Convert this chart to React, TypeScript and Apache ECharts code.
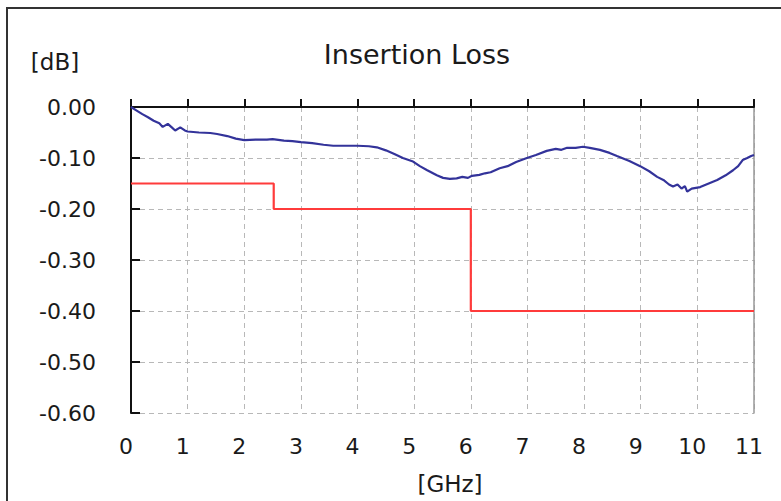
import React, { useEffect, useRef } from "react";
import * as echarts from "echarts";

const blueFreq = [0.0, 0.1, 0.2, 0.3, 0.4, 0.5, 0.56, 0.65, 0.72, 0.78, 0.87, 0.95, 1.0, 1.2, 1.4, 1.52, 1.7, 1.85, 2.0, 2.2, 2.4, 2.5, 2.7, 2.85, 3.0, 3.2, 3.4, 3.57, 3.8, 4.0, 4.2, 4.34, 4.5, 4.65, 4.8, 4.98, 5.1, 5.23, 5.4, 5.51, 5.63, 5.75, 5.85, 5.95, 6.02, 6.15, 6.25, 6.35, 6.51, 6.65, 6.8, 6.99, 7.15, 7.34, 7.5, 7.6, 7.7, 7.85, 7.98, 8.1, 8.28, 8.45, 8.58, 8.8, 8.99, 9.15, 9.29, 9.4, 9.5, 9.57, 9.65, 9.72, 9.78, 9.82, 9.9, 10.05, 10.2, 10.35, 10.5, 10.63, 10.72, 10.8, 10.88, 10.95, 11.0];
const blueLoss = [0.0, -0.007, -0.014, -0.02, -0.027, -0.032, -0.039, -0.033, -0.04, -0.046, -0.04, -0.046, -0.048, -0.05, -0.051, -0.053, -0.057, -0.062, -0.065, -0.064, -0.064, -0.063, -0.066, -0.067, -0.069, -0.071, -0.074, -0.076, -0.076, -0.076, -0.077, -0.079, -0.085, -0.092, -0.1, -0.107, -0.116, -0.124, -0.134, -0.139, -0.141, -0.14, -0.137, -0.139, -0.135, -0.133, -0.13, -0.128, -0.12, -0.116, -0.108, -0.1, -0.094, -0.086, -0.082, -0.084, -0.08, -0.08, -0.078, -0.08, -0.084, -0.09, -0.096, -0.106, -0.116, -0.126, -0.137, -0.143, -0.152, -0.156, -0.152, -0.16, -0.155, -0.166, -0.16, -0.157, -0.15, -0.143, -0.134, -0.124, -0.116, -0.104, -0.1, -0.096, -0.094];

const redFreq = [0, 2.52, 2.52, 6.0, 6.0, 11];
const redLimit = [-0.15, -0.15, -0.2, -0.2, -0.4, -0.4];

const xTicks = { min: 0, max: 11, interval: 1 };
const yTicks = { min: -0.6, max: 0, interval: 0.1 };

const FONT = "DejaVu Sans";

export default function App() {
  const ref = useRef<HTMLDivElement>(null);
  useEffect(() => {
    if (!ref.current) return;
    const chart = echarts.init(ref.current, undefined, { renderer: "svg" });
    const split = { show: true, lineStyle: { color: "#b8b8b8", type: [5, 4], width: 1 } };
    chart.setOption({
      animation: false,
      backgroundColor: "#ffffff",
      grid: { left: 131, top: 107, right: 27, bottom: 88 },
      graphic: [
        {
          type: "rect",
          shape: { x: 7, y: 8, width: 820, height: 540 },
          style: { fill: "none", stroke: "#333", lineWidth: 2 },
          silent: true,
        },
        {
          type: "text",
          x: 417,
          y: 54,
          style: { text: "Insertion Loss", font: `27px '${FONT}'`, fill: "#1a1a1a", textAlign: "center", textVerticalAlign: "middle" },
        },
        {
          type: "text",
          x: 55,
          y: 62,
          style: { text: "[dB]", font: `23px '${FONT}'`, fill: "#1a1a1a", textAlign: "center", textVerticalAlign: "middle" },
        },
        {
          type: "text",
          x: 450,
          y: 484,
          style: { text: "[GHz]", font: `23px '${FONT}'`, fill: "#1a1a1a", textAlign: "center", textVerticalAlign: "middle" },
        },
      ],
      xAxis: [
        {
          type: "value",
          position: "bottom",
          ...xTicks,
          axisLine: { show: true, lineStyle: { color: "#999", width: 1.5 } },
          axisTick: { show: false },
          axisLabel: { color: "#1a1a1a", fontFamily: FONT, fontSize: 22, margin: 22, padding: [0, 10, 0, 0] },
          splitLine: split,
        },
        {
          type: "value",
          position: "top",
          ...xTicks,
          axisLine: { show: true, onZero: false, lineStyle: { color: "#111", width: 2 } },
          axisTick: { show: true, inside: false, length: 8, lineStyle: { color: "#111", width: 2 } },
          axisLabel: { show: false },
          splitLine: { show: false },
        },
      ],
      yAxis: [
        {
          type: "value",
          position: "left",
          ...yTicks,
          axisLine: { show: true, onZero: false, lineStyle: { color: "#111", width: 2 } },
          axisTick: { show: true, inside: true, length: 9, lineStyle: { color: "#111", width: 2 } },
          axisLabel: { color: "#1a1a1a", fontFamily: FONT, fontSize: 22, margin: 35, formatter: (v: number) => v.toFixed(2) },
          splitLine: split,
        },
        {
          type: "value",
          position: "right",
          ...yTicks,
          axisLine: { show: true, onZero: false, lineStyle: { color: "#999", width: 1.5 } },
          axisTick: { show: false },
          axisLabel: { show: false },
          splitLine: { show: false },
        },
      ],
      series: [
        {
          type: "line",
          data: redFreq.map((f, i) => [f, redLimit[i]]),
          showSymbol: false,
          lineStyle: { color: "#ff3b3b", width: 2.2 },
          xAxisIndex: 0,
          yAxisIndex: 0,
        },
        {
          type: "line",
          data: blueFreq.map((f, i) => [f, blueLoss[i]]),
          showSymbol: false,
          lineStyle: { color: "#33339a", width: 2.2 },
          xAxisIndex: 0,
          yAxisIndex: 0,
        },
      ],
    });
    return () => chart.dispose();
  }, []);
  return <div ref={ref} style={{ width: 781, height: 501, position: "absolute", left: 0, top: 0 }} />;
}
